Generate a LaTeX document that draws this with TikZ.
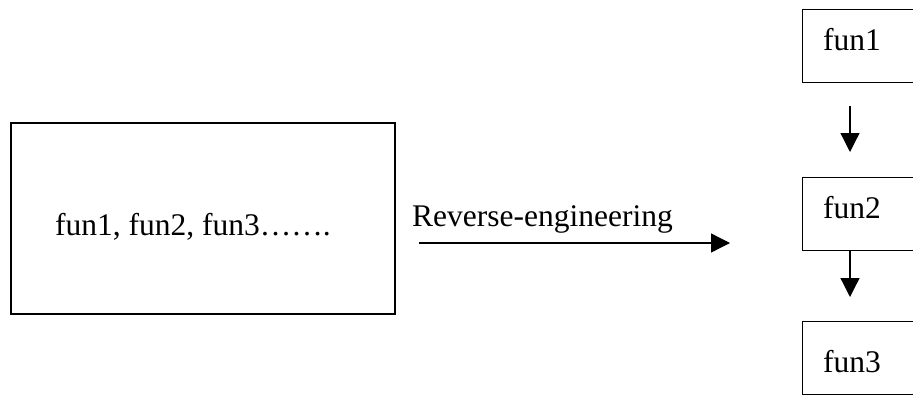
\documentclass[tikz,border=0pt]{standalone}
\usepackage{fontspec}
\setmainfont{Liberation Serif}
\usetikzlibrary{arrows.meta}
\begin{document}
\begin{tikzpicture}[x=1pt,y=-1pt,
  lbl/.style={anchor=base west,inner sep=0pt,font=\fontsize{31.5}{36}\selectfont},
  fbox/.style={draw,line width=1.3pt,minimum width=123pt,minimum height=73pt,anchor=north west,inner sep=0pt},
  arr/.style={line width=1.3pt,-{Triangle[length=19pt,width=19pt]}}]
\useasboundingbox (0,0) rectangle (913,394);
\clip (0,0) rectangle (913,394);
% big box
\node[draw,line width=2pt,minimum width=384pt,minimum height=191pt,anchor=north west,inner sep=0pt] (big) at (10,122) {};
\node[lbl] (bigtxt) at (55,235) {fun1, fun2, fun3…….};
% right boxes
\node[fbox] (f1) at (802,9) {};
\node[fbox] (f2) at (802,177) {};
\node[fbox] (f3) at (802,321) {};
\node[lbl] (t1) at (823,50) {fun1};
\node[lbl] (t2) at (823,218) {fun2};
\node[lbl] (t3) at (823,372) {fun3};
% arrows
\draw[arr,shorten <=23pt,shorten >=25pt] ([xshift=48pt]f1.south west) -- ([xshift=48pt]f2.north west);
\draw[arr,shorten >=24pt] ([xshift=48pt]f2.south west) -- ([xshift=48pt]f3.north west);
\coordinate (revend) at (730,243);
\draw[arr] ([xshift=23pt]big.east |- revend) -- (revend);
\node[lbl] (rev) at (412,226) {Reverse-engineering};
\end{tikzpicture}
\end{document}
